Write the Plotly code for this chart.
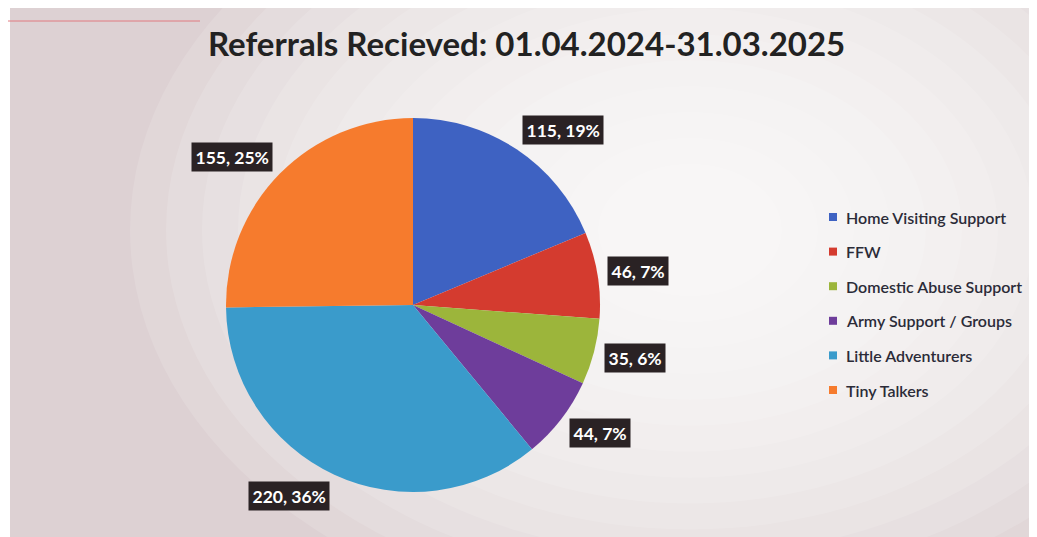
import math
import plotly.graph_objects as go

categories = ["Home Visiting Support", "FFW", "Domestic Abuse Support",
              "Army Support / Groups", "Little Adventurers", "Tiny Talkers"]
values = [115, 46, 35, 44, 220, 155]
colors = ["#3e62c2", "#d43b2f", "#9cb53b", "#6e3d9b", "#3a9bcb", "#f67b2d"]
title_text = "Referrals Recieved: 01.04.2024-31.03.2025"

W, H = 1037, 537
OFF = 8  # page body margin


def fx(x):
    return (x - OFF) / W


def fy(y):
    return 1 - (y - OFF) / H


cx, cy, R = 413, 305, 187  # pie centre / radius in page pixels

fig = go.Figure()
fig.add_trace(go.Pie(
    labels=categories, values=values, sort=False, direction="clockwise",
    rotation=0, marker=dict(colors=colors, line=dict(width=0)),
    textinfo="none", hoverinfo="label+value+percent", showlegend=False,
    domain=dict(x=[fx(cx - R), fx(cx + R)], y=[fy(cy + R), fy(cy - R)]),
))

shapes = []
# chart area background (scanned look)
shapes.append(dict(type="rect", xref="paper", yref="paper", x0=fx(10), x1=1,
                   y0=0, y1=min(1, fy(7)), fillcolor="#ddd1d3", line=dict(width=0),
                   layer="below"))
# soft light highlight (layered to fake a radial gradient)
hx, hy = 690, 230
n = 14
for i in range(n):
    rx = 560 - i * 36
    ry = rx * 0.72
    shapes.append(dict(type="circle", xref="paper", yref="paper",
                       x0=fx(hx - rx), x1=fx(hx + rx),
                       y0=fy(hy + ry), y1=fy(hy - ry),
                       fillcolor="white", opacity=0.13, line=dict(width=0),
                       layer="below"))
# thin red line at top-left
shapes.append(dict(type="line", xref="paper", yref="paper", x0=0, x1=fx(200),
                   y0=fy(21), y1=fy(21), line=dict(color="#e07a80", width=1),
                   layer="below"))

annotations = []
total = sum(values)
cum = 0
gap = 10
box_h = 26
for cat, v in zip(categories, values):
    mid = (cum + v / 2) / total
    cum += v
    ang = 2 * math.pi * mid
    s, c = math.sin(ang), math.cos(ang)
    px = cx + (R + gap) * s
    py = cy - (R + gap) * c - (box_h / 2) * c
    pct = round(100 * v / total)
    annotations.append(dict(
        x=fx(px), y=fy(py), xref="paper", yref="paper",
        text=f"<b>{v}, {pct}%</b>", showarrow=False,
        font=dict(family="Lato", size=17.5, color="white"),
        bgcolor="#2a2224", borderpad=3.5,
        xanchor="left" if s >= 0 else "right", yanchor="middle"))

# manual legend
leg_x, leg_y0, leg_dy = 833, 217, 34.6
for i, (cat, col) in enumerate(zip(categories, colors)):
    yy = leg_y0 + i * leg_dy
    shapes.append(dict(type="rect", xref="paper", yref="paper",
                       x0=fx(leg_x - 4), x1=fx(leg_x + 4),
                       y0=fy(yy + 4), y1=fy(yy - 4),
                       fillcolor=col, line=dict(width=0)))
    annotations.append(dict(
        x=fx(leg_x + 11), y=fy(yy), xref="paper", yref="paper",
        text=cat, showarrow=False, xanchor="left", yanchor="middle",
        font=dict(family="Lato", size=16, color="#2b2b38", weight=600)))

annotations.append(dict(
    x=fx(526), y=fy(43), xref="paper", yref="paper", text=f"<b>{title_text}</b>",
    showarrow=False, xanchor="center", yanchor="middle",
    font=dict(family="Lato", size=33, color="#222222")))

fig.update_layout(
    width=W, height=H, margin=dict(l=0, r=0, t=0, b=0),
    paper_bgcolor="white", plot_bgcolor="white",
    shapes=shapes, annotations=annotations, showlegend=False,
)
fig.write_html("out.html")
